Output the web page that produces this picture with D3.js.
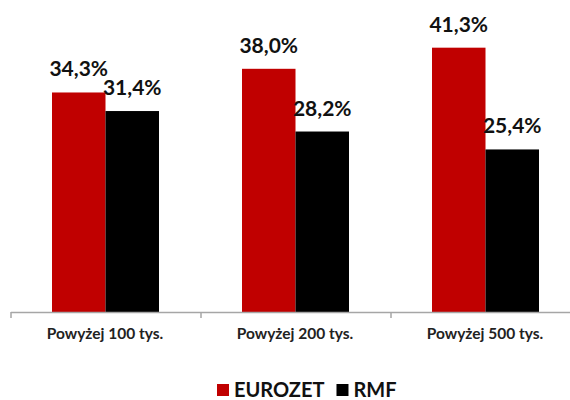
<!DOCTYPE html>
<html>
<head>
<meta charset="utf-8">
<script src="https://cdn.jsdelivr.net/npm/d3@7"></script>
<style>
  html, body { margin: 0; padding: 0; background: #fff; }
  svg { display: block; font-family: Lato, "Noto Sans", sans-serif; }
</style>
</head>
<body>
<div id="chart"></div>
<script>
// data
const categories = ["Powyżej 100 tys.", "Powyżej 200 tys.", "Powyżej 500 tys."];
const seriesNames = ["EUROZET", "RMF"];
const eurozet = [34.3, 38.0, 41.3];
const rmf = [31.4, 28.2, 25.4];
const seriesColors = ["#C00000", "#000000"];

const W = 570, H = 400;
const baseY = 312;

const svg = d3.select("#chart").append("svg").attr("width", W).attr("height", H);

const x = d3.scaleBand().domain(categories).range([10, 580]).padding(0);
const x1 = d3.scaleBand().domain(seriesNames).range([42, 149]).padding(0);
const y = d3.scaleLinear().domain([0, 45]).range([baseY, 24]);

const fmt = v => v.toFixed(1).replace(".", ",") + "%";

const rows = categories.map((c, i) => ({ cat: c, values: [eurozet[i], rmf[i]] }));

const groups = svg.append("g").selectAll("g").data(rows).enter().append("g")
  .attr("transform", d => `translate(${x(d.cat)},0)`);

groups.selectAll("rect").data(d => d.values.map((v, k) => ({ name: seriesNames[k], v, k })))
  .enter().append("rect")
  .attr("x", d => x1(d.name))
  .attr("y", d => y(d.v))
  .attr("width", x1.bandwidth())
  .attr("height", d => baseY - y(d.v))
  .attr("fill", d => seriesColors[d.k]);

groups.selectAll("text.val").data(d => d.values.map((v, k) => ({ name: seriesNames[k], v, k })))
  .enter().append("text")
  .attr("class", "val")
  .attr("x", d => x1(d.name) + x1.bandwidth() / 2)
  .attr("y", d => y(d.v) - 16)
  .attr("text-anchor", "middle")
  .attr("font-size", "21px")
  .attr("font-weight", "bold")
  .attr("fill", "#111")
  .text(d => fmt(d.v));

// axis
const axis = svg.append("g").attr("transform", `translate(0,${baseY})`)
  .call(d3.axisBottom(x).tickSize(0).tickFormat(""));
axis.select(".domain").remove();
axis.append("line").attr("x1", 11).attr("x2", W).attr("y1", 0.5).attr("y2", 0.5)
  .attr("stroke", "#A6A6A6").attr("stroke-width", 1.5);
const edges = categories.map(c => x(c)).concat([x.range()[1]]);
axis.selectAll("line.tk").data(edges).enter().append("line").attr("class", "tk")
  .attr("x1", d => d + 1).attr("x2", d => d + 1).attr("y1", 0).attr("y2", 6)
  .attr("stroke", "#A6A6A6").attr("stroke-width", 1.5);

svg.append("g").selectAll("text").data(categories).enter().append("text")
  .attr("x", d => x(d) + x.bandwidth() / 2)
  .attr("y", 339)
  .attr("text-anchor", "middle")
  .attr("font-size", "15.5px")
  .attr("font-weight", "bold")
  .attr("fill", "#222")
  .text(d => d);

// legend
const legend = svg.append("g").attr("transform", "translate(217,397)");
let lx = 0;
seriesNames.forEach((n, k) => {
  legend.append("rect").attr("x", lx).attr("y", -13).attr("width", 12).attr("height", 12)
    .attr("fill", seriesColors[k]);
  const t = legend.append("text").attr("x", lx + 17).attr("y", 0)
    .attr("font-size", "20px").attr("font-weight", "bold").attr("fill", "#111").text(n);
  lx += 17 + t.node().getComputedTextLength() + 12;
});
</script>
</body>
</html>
